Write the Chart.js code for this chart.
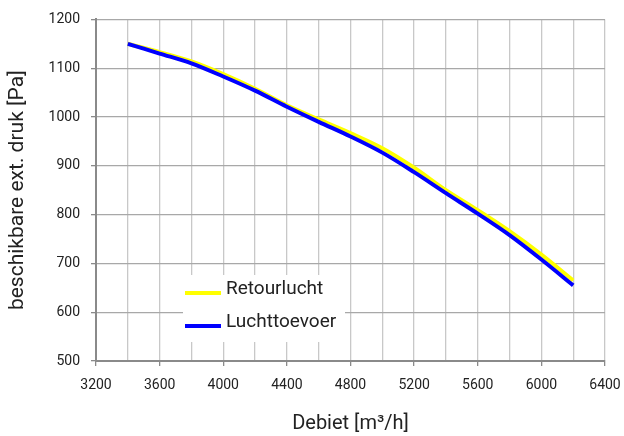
<!DOCTYPE html>
<html>
<head>
<meta charset="utf-8">
<script src="https://cdn.jsdelivr.net/npm/chart.js@4.4.1/dist/chart.umd.min.js"></script>
<style>
    html, body { margin: 0; padding: 0; background: #fff; }
    #wrap { width: 624px; height: 436px; }
</style>
</head>
<body>
<div id="wrap"><canvas id="curve"></canvas></div>
<script>
// Debiet (m3/h) and available external pressure (Pa)
const flowRates = [3400, 3600, 3800, 4000, 4200, 4400, 4600, 4800, 5000, 5200, 5400, 5600, 5800, 6000, 6200];
const retourlucht = [1150, 1133, 1114, 1088, 1058, 1024, 995, 967, 936, 896, 850, 809, 766, 718, 665];
const luchttoevoer = [1150, 1130, 1110, 1083, 1054, 1021, 990, 960, 927, 887, 844, 802, 758, 708, 655];
const seriesNames = ["Retourlucht", "Luchttoevoer"];
const seriesColors = ["#ffff00", "#0000ff"];

const FONT = "Roboto, 'Liberation Sans', sans-serif";

function toPoints(values) {
    return flowRates.map((x, i) => ({ x: x, y: values[i] }));
}

// Legend box drawn inside the plot, over the grid
const boxLegend = {
    id: "boxLegend",
    beforeDatasetsDraw(chart) {
        const ctx = chart.ctx;
        ctx.save();
        ctx.fillStyle = "#ffffff";
        ctx.fillRect(183, 275, 162, 67);
        chart.data.datasets.forEach((ds, i) => {
            const y = 293 + i * 33;
            ctx.strokeStyle = ds.borderColor;
            ctx.lineWidth = 4;
            ctx.beginPath();
            ctx.moveTo(185, y);
            ctx.lineTo(221, y);
            ctx.stroke();
            ctx.fillStyle = "#222";
            ctx.font = "19px " + FONT;
            ctx.textBaseline = "middle";
            ctx.fillText(ds.label, 226, y - 4);
        });
        ctx.restore();
    }
};

new Chart(document.getElementById("curve").getContext("2d"), {
    type: "line",
    data: {
        datasets: [
            {
                label: seriesNames[0],
                data: toPoints(retourlucht),
                borderColor: seriesColors[0],
                borderWidth: 4,
                pointRadius: 0,
                cubicInterpolationMode: "monotone",
                fill: false,
                order: 1
            },
            {
                label: seriesNames[1],
                data: toPoints(luchttoevoer),
                borderColor: seriesColors[1],
                borderWidth: 4,
                pointRadius: 0,
                cubicInterpolationMode: "monotone",
                fill: false,
                order: 0
            }
        ]
    },
    options: {
        responsive: true,
        maintainAspectRatio: false,
        animation: false,
        layout: { padding: { top: 19, right: 19, left: 5, bottom: 0 } },
        plugins: {
            legend: { display: false },
            tooltip: { enabled: false }
        },
        scales: {
            x: {
                type: "linear",
                min: 3200,
                max: 6400,
                afterFit: scale => {
                    scale.height = 75;
                    scale.paddingLeft = 0;
                    scale.paddingRight = 0;
                },
                border: { color: "#8a8a8a", width: 2 },
                grid: {
                    color: "#c8c8c8",
                    lineWidth: 1.3,
                    tickLength: 5,
                    tickColor: ctx => (ctx.tick && ctx.tick.value % 400 === 0) ? "#8a8a8a" : "rgba(0,0,0,0)"
                },
                ticks: {
                    stepSize: 200,
                    autoSkip: false,
                    maxRotation: 0,
                    padding: 11,
                    color: "#222",
                    font: { family: FONT, size: 14 },
                    callback: v => (v % 400 === 0 ? String(v) : "")
                },
                title: {
                    display: true,
                    text: "Debiet [m³/h]",
                    color: "#222",
                    font: { family: FONT, size: 20 },
                    padding: { top: 18, bottom: 0 }
                }
            },
            y: {
                min: 500,
                max: 1200,
                afterFit: scale => { scale.width = 91; },
                border: { color: "#8a8a8a", width: 2 },
                grid: {
                    color: "#a8a8a8",
                    lineWidth: 1.3,
                    tickLength: 5,
                    tickColor: "#8a8a8a"
                },
                ticks: {
                    stepSize: 100,
                    padding: 11,
                    color: "#222",
                    font: { family: FONT, size: 14 },
                    callback: v => String(v)
                },
                title: {
                    display: true,
                    text: "beschikbare ext. druk [Pa]",
                    color: "#222",
                    font: { family: FONT, size: 21 },
                    padding: { top: 0, bottom: 0 }
                }
            }
        }
    },
    plugins: [boxLegend]
});
</script>
</body>
</html>
